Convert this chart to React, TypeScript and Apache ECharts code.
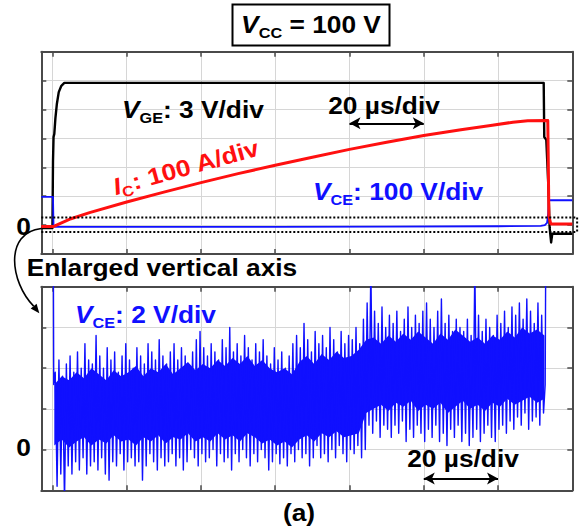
import React, { useEffect, useRef } from 'react';
import * as echarts from 'echarts';

// ---------- axes (time in µs, amplitude in divisions) ----------
const timeTicks = [0, 20, 40, 60, 80, 100, 120, 140];
const xMin = -3;
const xMax = 140;
const topYMin = -1;
const topYMax = 6;
const botYMin = -1;
const botYMax = 4;

// ---------- upper panel traces ----------
// V_GE (3 V/div)
const vgeT = [-3, 0, 0.15, 0.3, 0.5, 0.8, 1.2, 1.7, 2.4, 3.2, 132.3, 132.45, 133.0, 133.5, 133.9, 134.3, 134.6, 140];
const vgeV = [-0.1, -0.1, 2.2, 3.05, 3.15, 3.7, 4.2, 4.6, 4.82, 4.92, 4.92, 3.05, 2.95, 1.5, -0.1, -0.6, -0.3, -0.3];
// I_C (100 A/div)
const icT = [-3, 0.2, 5, 10, 20, 30, 40, 50, 60, 70, 80, 90, 100, 110, 118, 124, 128, 133.4, 133.7, 134.2, 140];
const icV = [-0.05, -0.05, 0.22, 0.43, 0.8, 1.14, 1.47, 1.78, 2.07, 2.35, 2.62, 2.87, 3.1, 3.3, 3.45, 3.56, 3.61, 3.62, 0.3, 0.04, 0.04];
// V_CE (100 V/div)
const vceT = [-3, 0.15, 0.3, 30, 60, 90, 120, 131.5, 132.6, 133.2, 133.5, 133.7, 140];
const vceV = [0.98, 0.98, -0.06, -0.06, -0.06, -0.05, -0.04, -0.03, 0.0, 0.08, 0.4, 0.86, 0.86];

// ---------- lower panel: V_CE enlarged (2 V/div) ----------
// dense core of the noise band, one value every 2 µs
const coreStartT = 0.5;
const coreStepT = 2;
const coreHi = [
  1.6, 1.8, 1.7, 1.9, 1.75, 2.0, 1.85, 1.7, 1.95, 1.8,
  1.9, 2.05, 1.8, 2.0, 1.9, 2.1, 1.85, 2.0, 2.15, 1.95,
  2.1, 2.0, 2.2, 2.05, 2.25, 2.1, 2.3, 2.05, 2.2, 2.0,
  1.9, 2.0, 1.85, 2.15, 2.3, 2.1, 2.35, 2.2, 2.4, 2.25,
  2.3, 2.45, 2.7,
  2.75, 2.6, 2.8, 2.65, 2.85, 2.7, 2.9, 2.75, 2.6, 2.85, 2.7, 2.95,
  2.8, 2.65, 2.75, 2.6, 2.8, 2.7, 2.9, 2.75, 3.0, 2.85, 2.95, 2.8,
];
const coreLo = [
  0.1, 0.25, 0.05, 0.2, 0.3, 0.1, 0.25, 0.15, 0.35, 0.2,
  0.25, 0.1, 0.3, 0.2, 0.35, 0.15, 0.3, 0.25, 0.4, 0.2,
  0.3, 0.2, 0.4, 0.25, 0.35, 0.2, 0.4, 0.3, 0.15, 0.25,
  0.1, 0.2, 0.05, 0.25, 0.35, 0.2, 0.4, 0.3, 0.45, 0.3,
  0.35, 0.4, 0.9,
  1.0, 1.1, 0.95, 1.15, 1.05, 1.2, 0.95, 1.1, 1.0, 1.15, 0.9, 1.05,
  1.2, 1.0, 1.1, 0.95, 1.15, 1.05, 1.25, 1.1, 1.2, 1.3, 1.15, 1.25,
];
// peak-detect max/min per 1 µs bin
const enlStartT = 1;
const enlStepT = 1;
const vceEnlMax = [
  1.9, 2.2, 1.8, 2.1, 2.3, 1.9, 2.4, 2.0, 2.6, 2.2,
  2.1, 2.8, 2.3, 2.0, 2.5, 2.2, 2.4, 1.9, 2.3, 2.6,
  2.2, 2.0, 2.5, 2.3, 2.1, 2.6, 2.4, 2.2, 2.7, 2.3,
  2.1, 2.4, 2.6, 2.2, 2.5, 2.3, 2.0, 2.4, 2.7, 2.9,
  2.5, 2.3, 2.6, 2.4, 2.2, 2.7, 2.5, 3.0, 2.4, 2.6,
  2.3, 2.8, 2.5, 2.2, 2.6, 2.4, 2.7, 2.3, 2.1, 2.5,
  2.2, 2.4, 2.0, 2.3, 2.6, 2.8, 2.5, 3.1, 2.7, 2.4,
  2.9, 2.6, 2.8, 2.5, 3.0, 2.7, 2.4, 2.9, 2.6, 2.8,
  2.7, 3.0, 2.6, 3.2, 3.6, 4.5, 3.4, 3.1, 3.5, 3.0,
  3.3, 3.1, 3.4, 2.9, 3.2, 3.5, 3.0, 3.3, 3.1, 3.4,
  3.6, 3.2, 3.0, 3.4, 3.7, 3.1, 3.3, 2.9, 3.2, 3.0,
  2.9, 3.2, 2.8, 4.5, 3.3, 2.9, 3.2, 3.0, 2.8, 3.3,
  3.1, 3.4, 3.0, 3.5, 3.3, 3.6, 3.2, 3.7, 3.4, 3.1, 3.6, 3.3,
];
const vceEnlMin = [
  -0.9, -0.6, -1.3, -0.4, -0.6, -0.3, -0.5, -0.2, -0.6, -0.4,
  -0.3, -0.5, -0.2, -0.6, -0.75, -0.3, -0.4, -0.1, -0.5, -0.3,
  -0.2, -0.4, -0.3, -0.75, -0.4, -0.1, -0.3, -0.5, -0.2, -0.4,
  -0.3, -0.1, -0.4, -0.2, -0.5, -0.3, 0.0, -0.2, -0.4, -0.1,
  -0.3, -0.2, 0.0, -0.4, -0.1, -0.3, -0.2, -0.5, -0.1, -0.3,
  0.0, -0.2, -0.4, -0.1, -0.3, 0.0, -0.2, -0.5, -0.3, -0.1,
  -0.35, -0.2, -0.4, -0.1, -0.3, 0.0, -0.2, -0.1, -0.4, -0.2,
  0.1, -0.2, -0.1, -0.3, 0.0, -0.2, 0.1, -0.1, -0.3, 0.0,
  -0.1, 0.1, -0.2, 0.0, 0.6, 0.4, 0.7, 0.3, 0.6, 0.5,
  0.3, 0.6, 0.4, 0.7, 0.2, 0.5, 0.3, 0.6, 0.4, 0.2,
  0.5, 0.3, 0.6, 0.2, 0.4, 0.1, 0.5, 0.3, 0.6, 0.2,
  0.4, 0.1, 0.3, 0.5, 0.2, 0.4, 0.6, 0.3, 0.2, 0.5,
  0.6, 0.4, 0.7, 0.5, 0.8, 0.6, 0.9, 0.5, 0.7, 0.8, 0.6, 0.9,
];
const enlHeadT = [0.2, 0.35];
const enlHeadV = [6, 1.6];
const enlTailT = [132.7, 132.9];
const enlTailV = [1.6, 6];

// ---------- annotations (data units) ----------
const zoomWindow = [0.26, -0.24];
const zoomWindowRightT = 141.3;
const scaleArrowTop = [80, 100];
const scaleArrowTopY = 3.52;
const scaleArrowBot = [100, 120];
const scaleArrowBotY = -0.71;

const FONT = '"Liberation Sans", Arial, Helvetica, sans-serif';
const FS = 23.5;
const SUB = 14.5;
const SX = 1.12;
const BLUE = '#1010ff';
const RED = '#ff1010';
const FRAME = '#4a4a4a';
const GRIDC = '#d6d6d6';

const zip = (t: number[], v: number[]) => t.map((x, i) => [x, v[i]]);

function richStyles(color: string) {
  const base = { fontFamily: FONT, fontWeight: 'bold', fontSize: FS, lineHeight: 30, fill: color };
  return {
    i: { ...base, fontStyle: 'italic' },
    n: { ...base },
    s: { fontFamily: FONT, fontWeight: 'bold', fontSize: SUB, lineHeight: SUB, verticalAlign: 'bottom', fill: color },
  };
}

function label(x: number, y: number, text: string, color: string, align: string, rotation = 0) {
  return {
    type: 'text',
    x,
    y,
    rotation,
    scaleX: SX,
    silent: true,
    z: 200,
    style: {
      x: 0,
      y: 0,
      text,
      align,
      verticalAlign: 'middle',
      fill: color,
      fontFamily: FONT,
      fontWeight: 'bold',
      fontSize: FS,
      rich: richStyles(color),
    },
  };
}

export default function App() {
  const ref = useRef<HTMLDivElement>(null);
  useEffect(() => {
    const chart = echarts.init(ref.current!, null, { renderer: 'svg' });

    const enlData: number[][] = zip(enlHeadT, enlHeadV);
    vceEnlMax.forEach((mx, i) => {
      const t = enlStartT + i * enlStepT;
      enlData.push([t - enlStepT / 4, mx]);
      enlData.push([t + enlStepT / 4, vceEnlMin[i]]);
    });
    zip(enlTailT, enlTailV).forEach((p) => enlData.push(p));

    const xAxisBase = (gridIndex: number, position: string, split: boolean) => ({
      type: 'value',
      gridIndex,
      position,
      min: xMin,
      max: xMax,
      splitNumber: 7,
      axisLine: { show: true, onZero: false, lineStyle: { color: FRAME, width: 2 } },
      axisTick: { show: true, inside: true, length: 5, customValues: timeTicks, lineStyle: { color: FRAME, width: 1.5 } },
      axisLabel: { show: false },
      splitLine: { show: split, lineStyle: { color: GRIDC, width: 1 } },
    });
    const yAxisBase = (gridIndex: number, position: string, split: boolean, min: number, max: number) => ({
      type: 'value',
      gridIndex,
      position,
      min,
      max,
      interval: 1,
      axisLine: { show: true, onZero: false, lineStyle: { color: FRAME, width: 2 } },
      axisTick: { show: true, inside: true, length: 5, lineStyle: { color: FRAME, width: 1.5 } },
      axisLabel: { show: false },
      splitLine: { show: split, lineStyle: { color: GRIDC, width: 1 } },
    });

    const lineSeries = (name: string, data: number[][], color: string, width: number, xi: number, yi: number, z: number) => ({
      type: 'line',
      name,
      data,
      xAxisIndex: xi,
      yAxisIndex: yi,
      symbol: 'none',
      showSymbol: false,
      clip: true,
      z,
      silent: true,
      lineStyle: { color, width, join: 'round' },
    });

    const arrowSeries = (xi: number, yi: number, t: number[], y: number) => ({
      type: 'line',
      data: [],
      xAxisIndex: xi,
      yAxisIndex: yi,
      silent: true,
      z: 50,
      markLine: {
        silent: true,
        symbol: ['arrow', 'arrow'],
        symbolSize: [9, 11],
        label: { show: false },
        lineStyle: { color: '#000', width: 2, type: 'solid' },
        emphasis: { disabled: true },
        data: [[{ coord: [t[0], y] }, { coord: [t[1], y] }]],
      },
    });

    const coreSeries = {
      type: 'custom',
      xAxisIndex: 2,
      yAxisIndex: 2,
      silent: true,
      clip: true,
      z: 9,
      data: [[coreStartT, coreLo[0]]],
      renderItem: (_params: any, api: any) => {
        const pts: number[][] = [];
        coreHi.forEach((v, i) => pts.push(api.coord([coreStartT + i * coreStepT, v])));
        for (let i = coreLo.length - 1; i >= 0; i--) pts.push(api.coord([coreStartT + i * coreStepT, coreLo[i]]));
        return { type: 'polygon', shape: { points: pts }, style: { fill: BLUE } };
      },
    };

    chart.setOption({
      animation: false,
      backgroundColor: '#fff',
      grid: [
        { left: 41.3, top: 51.7, width: 531, height: 202.3 },
        { left: 41.3, top: 286.7, width: 531, height: 203.6 },
      ],
      xAxis: [
        xAxisBase(0, 'bottom', true),
        xAxisBase(0, 'top', false),
        xAxisBase(1, 'bottom', true),
        xAxisBase(1, 'top', false),
      ],
      yAxis: [
        yAxisBase(0, 'left', true, topYMin, topYMax),
        yAxisBase(0, 'right', false, topYMin, topYMax),
        yAxisBase(1, 'left', true, botYMin, botYMax),
        yAxisBase(1, 'right', false, botYMin, botYMax),
      ],
      series: [
        lineSeries('VGE', zip(vgeT, vgeV), '#000', 2.4, 0, 0, 10),
        lineSeries('VCE', zip(vceT, vceV), BLUE, 1.8, 0, 0, 11),
        lineSeries('IC', zip(icT, icV), RED, 3, 0, 0, 12),
        coreSeries,
        lineSeries('VCE enlarged', enlData, BLUE, 1.4, 2, 2, 10),
        arrowSeries(0, 0, scaleArrowTop, scaleArrowTopY),
        arrowSeries(2, 2, scaleArrowBot, scaleArrowBotY),
      ],
    });

    const p = (g: number, x: number, y: number) => chart.convertToPixel({ gridIndex: g }, [x, y]) as number[];
    const zTop = p(0, xMin, zoomWindow[0]);
    const zBot = p(0, xMin, zoomWindow[1]);
    const zRight = p(0, zoomWindowRightT, zoomWindow[0])[0];
    const dotted = { stroke: '#000', lineWidth: 2, lineDash: [2, 2] };

    const cStart = p(0, xMin, -0.12);
    const tip = p(1, xMin, 3.35);
    tip[0] -= 2;
    const dir = [0.628, 0.779];
    const base = [tip[0] - 9 * dir[0], tip[1] - 9 * dir[1]];
    const perp = [-dir[1], dir[0]];

    chart.setOption({
      graphic: [
        { type: 'line', silent: true, z: 150, shape: { x1: zTop[0], y1: zTop[1], x2: zRight, y2: zTop[1] }, style: dotted },
        { type: 'line', silent: true, z: 150, shape: { x1: zBot[0], y1: zBot[1], x2: zRight, y2: zBot[1] }, style: dotted },
        { type: 'line', silent: true, z: 150, shape: { x1: zRight, y1: zTop[1], x2: zRight, y2: zBot[1] }, style: dotted },
        {
          type: 'bezierCurve', silent: true, z: 150,
          shape: { x1: cStart[0], y1: cStart[1], cpx1: 4, cpy1: cStart[1] + 4, cpx2: 10, cpy2: 282, x2: base[0], y2: base[1] },
          style: { stroke: '#000', lineWidth: 1.6, fill: null },
        },
        {
          type: 'polygon', silent: true, z: 150,
          shape: { points: [tip, [base[0] + 3.8 * perp[0], base[1] + 3.8 * perp[1]], [base[0] - 3.8 * perp[0], base[1] - 3.8 * perp[1]]] },
          style: { fill: '#000' },
        },
        {
          type: 'rect', silent: true, z: 150,
          shape: { x: 232.5, y: 4.5, width: 157, height: 41 },
          style: { fill: '#fff', stroke: '#000', lineWidth: 2 },
        },
        label(311, 25, '{i|V}{s|CC}{n| = 100 V}', '#000', 'center'),
        label(122, 110, '{i|V}{s|GE}{n|: 3 V/div}', '#000', 'left'),
        label(384, 106, '{n|20 µs/div}', '#000', 'center'),
        label(186, 167, '{i|I}{s|C}{n|: 100 A/div}', RED, 'center', 0.27),
        label(313, 192, '{i|V}{s|CE}{n|: 100 V/div}', BLUE, 'left'),
        label(26.7, 268, '{n|Enlarged vertical axis}', '#000', 'left'),
        label(75, 315, '{i|V}{s|CE}{n|: 2 V/div}', BLUE, 'left'),
        label(463, 458.7, '{n|20 µs/div}', '#000', 'center'),
        label(299, 513, '{n|(a)}', '#000', 'center'),
        label(23.5, 227, '{n|0}', '#000', 'center'),
        label(23.5, 447.5, '{n|0}', '#000', 'center'),
      ],
    });

    return () => chart.dispose();
  }, []);
  return <div ref={ref} style={{ position: 'absolute', left: 0, top: 0, width: 580, height: 531 }} />;
}
